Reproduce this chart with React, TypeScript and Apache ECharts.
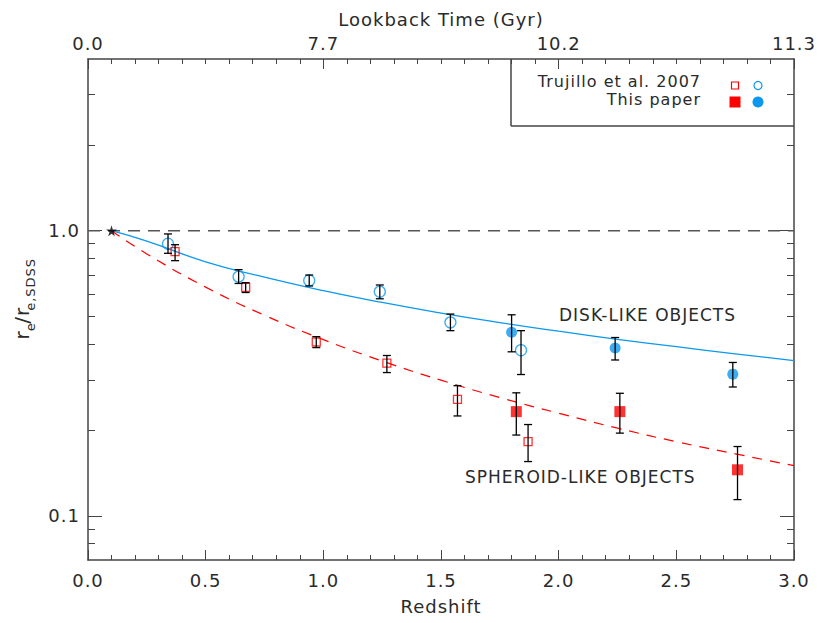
import React, { useEffect, useRef } from 'react';
import * as echarts from 'echarts';

// Colours and fonts
const BLUE = '#0b98ee';
const RED = '#ff0000';
const INK = '#2a2a2a';
const AXIS = '#444444';
const FONT = 'DejaVu Sans';

// Axis ticks and labels
const lookbackLabels = ['0.0', '7.7', '10.2', '11.3'];
const yMajorTicks = [0.1, 1];
const yMinorTicks = [0.08, 0.09, 0.2, 0.3, 0.4, 0.5, 0.6, 0.7, 0.8, 0.9, 2, 3];

// Size-evolution fits, normalised to the local (z = 0.1) SDSS sizes
const fitZ = [0.1, 0.25, 0.5, 0.75, 1.0, 1.25, 1.5, 1.75, 2.0, 2.25, 2.5, 2.75, 3.0];
const diskFit = [1.0, 0.919, 0.778, 0.687, 0.616, 0.56, 0.514, 0.476, 0.444, 0.416, 0.392, 0.37, 0.35];
const spheroidFit = [1.0, 0.829, 0.634, 0.505, 0.415, 0.349, 0.299, 0.26, 0.229, 0.203, 0.182, 0.165, 0.15];

// Trujillo et al. 2007 — disk-like
const trujDiskZ = [0.34, 0.64, 0.94, 1.24, 1.54, 1.84];
const trujDisk = [0.9, 0.69, 0.669, 0.611, 0.477, 0.381];
const trujDiskLo = [0.833, 0.653, 0.64, 0.577, 0.446, 0.313];
const trujDiskHi = [0.974, 0.73, 0.699, 0.645, 0.51, 0.446];

// Trujillo et al. 2007 — spheroid-like
const trujSphZ = [0.37, 0.67, 0.97, 1.27, 1.57, 1.87];
const trujSph = [0.844, 0.633, 0.407, 0.343, 0.256, 0.182];
const trujSphLo = [0.785, 0.607, 0.389, 0.318, 0.224, 0.155];
const trujSphHi = [0.893, 0.657, 0.425, 0.365, 0.286, 0.209];

// This paper — disk-like
const ownDiskZ = [1.8, 2.24, 2.74];
const ownDisk = [0.44, 0.388, 0.314];
const ownDiskLo = [0.376, 0.352, 0.283];
const ownDiskHi = [0.507, 0.422, 0.345];

// This paper — spheroid-like
const ownSphZ = [1.82, 2.26, 2.76];
const ownSph = [0.232, 0.232, 0.145];
const ownSphLo = [0.192, 0.195, 0.114];
const ownSphHi = [0.27, 0.269, 0.175];

// Local reference point
const localRef = [[0.1, 1.0]];

const pairs = (xs: number[], ys: number[]) => xs.map((x, i) => [x, ys[i]]);
const bars = (xs: number[], lo: number[], hi: number[]) => xs.map((x, i) => [x, lo[i], hi[i]]);

const STAR = 'path://M50,0 L61,35 L98,35 L68,57 L79,91 L50,70 L21,91 L32,57 L2,35 L39,35 Z';

const Y_MIN = 0.07;
const Y_MAX = 4;

function logAxis(position: 'left' | 'right', ticks: number[], len: number, withLine: boolean, withLabels: boolean) {
  return {
    type: 'log',
    logBase: 10,
    position,
    min: Y_MIN,
    max: Y_MAX,
    axisLine: { show: withLine, onZero: false, lineStyle: { color: AXIS, width: 1.5 } },
    axisTick: { show: true, inside: true, length: len, customValues: ticks, lineStyle: { color: AXIS, width: 1 } },
    axisLabel: {
      show: withLabels,
      customValues: ticks,
      formatter: (v: number) => v.toFixed(1),
      margin: 8,
      color: INK,
      fontSize: 18,
      fontFamily: FONT,
    },
    splitLine: { show: false },
    minorTick: { show: false },
  };
}

export default function App() {
  const ref = useRef<HTMLDivElement>(null);

  useEffect(() => {
    if (!ref.current) return;
    const chart = echarts.init(ref.current, undefined, { renderer: 'svg' });

    const errorBars = [
      ...bars(trujDiskZ, trujDiskLo, trujDiskHi),
      ...bars(trujSphZ, trujSphLo, trujSphHi),
      ...bars(ownDiskZ, ownDiskLo, ownDiskHi),
      ...bars(ownSphZ, ownSphLo, ownSphHi),
    ];

    const option = {
      animation: false,
      textStyle: { fontFamily: FONT },
      grid: { left: 88, top: 59, width: 706, height: 501, show: false },
      xAxis: [
        {
          type: 'value',
          position: 'bottom',
          min: 0,
          max: 3,
          interval: 0.5,
          name: 'Redshift',
          nameLocation: 'middle',
          nameGap: 37,
          nameTextStyle: { color: INK, fontSize: 18, fontFamily: FONT },
          axisLine: { show: true, onZero: false, lineStyle: { color: AXIS, width: 1.5 } },
          axisTick: { show: true, inside: true, length: 10, lineStyle: { color: AXIS, width: 1 } },
          minorTick: { show: true, splitNumber: 5, length: 5, lineStyle: { color: AXIS, width: 1 } },
          axisLabel: {
            margin: 11,
            color: INK,
            fontSize: 18,
            fontFamily: FONT,
            formatter: (v: number) => v.toFixed(1),
          },
          splitLine: { show: false },
        },
        {
          type: 'value',
          position: 'top',
          min: 0,
          max: 3,
          interval: 1,
          name: 'Lookback Time (Gyr)',
          nameLocation: 'middle',
          nameGap: 31,
          nameTextStyle: { color: INK, fontSize: 18, fontFamily: FONT },
          axisLine: { show: true, onZero: false, lineStyle: { color: AXIS, width: 1.5 } },
          axisTick: { show: true, inside: true, length: 10, lineStyle: { color: AXIS, width: 1 } },
          minorTick: { show: true, splitNumber: 10, length: 5, lineStyle: { color: AXIS, width: 1 } },
          axisLabel: {
            margin: 7,
            color: INK,
            fontSize: 18,
            fontFamily: FONT,
            formatter: (v: number) => lookbackLabels[Math.round(v)] ?? '',
          },
          splitLine: { show: false },
        },
      ],
      yAxis: [
        logAxis('left', yMajorTicks, 14, true, true),
        logAxis('left', yMinorTicks, 7, false, false),
        logAxis('right', yMajorTicks, 14, true, false),
        logAxis('right', yMinorTicks, 7, false, false),
      ],
      series: [
        {
          name: 'unity',
          type: 'line',
          data: [[0, 1], [3, 1]],
          symbol: 'none',
          silent: true,
          lineStyle: { color: '#555555', width: 1.5, type: [12, 8] },
          z: 1,
        },
        {
          name: 'disk fit',
          type: 'line',
          data: pairs(fitZ, diskFit),
          symbol: 'none',
          smooth: true,
          silent: true,
          lineStyle: { color: BLUE, width: 1.3 },
          z: 2,
        },
        {
          name: 'spheroid fit',
          type: 'line',
          data: pairs(fitZ, spheroidFit),
          symbol: 'none',
          smooth: true,
          silent: true,
          lineStyle: { color: RED, width: 1.2, type: [10, 8] },
          z: 2,
        },
        {
          name: 'Trujillo disk',
          type: 'scatter',
          data: pairs(trujDiskZ, trujDisk),
          symbol: 'circle',
          symbolSize: 11,
          silent: true,
          itemStyle: { color: 'rgba(0,0,0,0)', borderColor: BLUE, borderWidth: 1.3 },
          z: 3,
        },
        {
          name: 'Trujillo spheroid',
          type: 'scatter',
          data: pairs(trujSphZ, trujSph),
          symbol: 'rect',
          symbolSize: 8,
          silent: true,
          itemStyle: { color: 'rgba(0,0,0,0)', borderColor: RED, borderWidth: 1.3 },
          z: 3,
        },
        {
          name: 'own disk',
          type: 'scatter',
          data: pairs(ownDiskZ, ownDisk),
          symbol: 'circle',
          symbolSize: 11,
          silent: true,
          itemStyle: { color: BLUE },
          z: 3,
        },
        {
          name: 'own spheroid',
          type: 'scatter',
          data: pairs(ownSphZ, ownSph),
          symbol: 'rect',
          symbolSize: 11,
          silent: true,
          itemStyle: { color: RED },
          z: 3,
        },
        {
          name: 'errors',
          type: 'custom',
          data: errorBars,
          encode: { x: 0, y: [1, 2] },
          silent: true,
          z: 4,
          renderItem: (_params: any, api: any) => {
            const x = api.value(0);
            const lo = api.coord([x, api.value(1)]);
            const hi = api.coord([x, api.value(2)]);
            const w = 4;
            const style = { stroke: '#000000', lineWidth: 1.3 };
            return {
              type: 'group',
              children: [
                { type: 'line', shape: { x1: lo[0], y1: lo[1], x2: hi[0], y2: hi[1] }, style },
                { type: 'line', shape: { x1: lo[0] - w, y1: lo[1], x2: lo[0] + w, y2: lo[1] }, style },
                { type: 'line', shape: { x1: hi[0] - w, y1: hi[1], x2: hi[0] + w, y2: hi[1] }, style },
              ],
            };
          },
        },
        {
          name: 'local',
          type: 'scatter',
          data: localRef,
          symbol: STAR,
          symbolSize: 11,
          silent: true,
          itemStyle: { color: '#000000' },
          z: 5,
        },
      ],
      graphic: [
        // y-axis title
        {
          type: 'text',
          x: 22,
          y: 300,
          rotation: Math.PI / 2,
          silent: true,
          style: {
            text: '{a|r}{b|e}{a|/r}{b|e,SDSS}',
            align: 'center',
            verticalAlign: 'middle',
            fill: INK,
            fontFamily: FONT,
            rich: {
              a: { fontSize: 20, lineHeight: 30, verticalAlign: 'middle', fill: INK, fontFamily: FONT },
              b: { fontSize: 13, lineHeight: 13, verticalAlign: 'bottom', fill: INK, fontFamily: FONT },
            },
          },
        },
        // legend frame
        { type: 'line', silent: true, shape: { x1: 511, y1: 59, x2: 511, y2: 126 }, style: { stroke: AXIS, lineWidth: 1.5 } },
        { type: 'line', silent: true, shape: { x1: 511, y1: 126, x2: 794, y2: 126 }, style: { stroke: AXIS, lineWidth: 1.5 } },
        {
          type: 'text', x: 701, y: 81, silent: true,
          style: { text: 'Trujillo et al. 2007', align: 'right', verticalAlign: 'middle', fill: INK, fontSize: 16, lineHeight: 16, fontFamily: FONT },
        },
        {
          type: 'text', x: 701, y: 99, silent: true,
          style: { text: 'This paper', align: 'right', verticalAlign: 'middle', fill: INK, fontSize: 16, lineHeight: 16, fontFamily: FONT },
        },
        { type: 'rect', silent: true, shape: { x: 731.5, y: 82, width: 7, height: 7 }, style: { fill: 'none', stroke: RED, lineWidth: 1.2 } },
        { type: 'circle', silent: true, shape: { cx: 758, cy: 85.5, r: 4 }, style: { fill: 'none', stroke: BLUE, lineWidth: 1.2 } },
        { type: 'rect', silent: true, shape: { x: 729.5, y: 96.5, width: 11, height: 11 }, style: { fill: RED } },
        { type: 'circle', silent: true, shape: { cx: 758, cy: 102, r: 5.5 }, style: { fill: BLUE } },
        // curve annotations
        {
          type: 'text', x: 559, y: 315, silent: true,
          style: { text: 'DISK-LIKE OBJECTS', align: 'left', verticalAlign: 'middle', fill: INK, fontSize: 17, fontFamily: FONT },
        },
        {
          type: 'text', x: 465, y: 477, silent: true,
          style: { text: 'SPHEROID-LIKE OBJECTS', align: 'left', verticalAlign: 'middle', fill: INK, fontSize: 17, fontFamily: FONT },
        },
      ],
    };

    chart.setOption(option as any);
    return () => chart.dispose();
  }, []);

  return (
    <>
      <style>{'#size-evolution svg text { letter-spacing: 1px; }'}</style>
      <div
        id="size-evolution"
        ref={ref}
        style={{ position: 'absolute', left: 0, top: 0, width: 820, height: 623, background: '#ffffff' }}
      />
    </>
  );
}
